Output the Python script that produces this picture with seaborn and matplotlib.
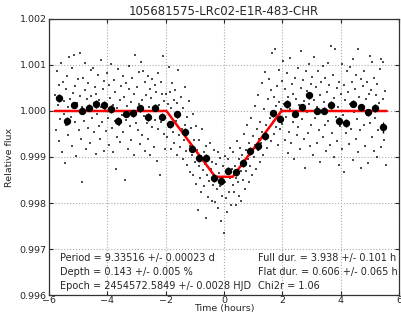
import numpy as np
import pandas as pd
import seaborn as sns
import matplotlib
matplotlib.use("Agg")
import matplotlib.pyplot as plt
from matplotlib.ticker import FormatStrFormatter

# raw photometry: time (hours from mid-transit) and flux offset in ppm
raw_time = [
    -5.78, -5.75, -5.72, -5.70, -5.67, -5.65, -5.62, -5.60, -5.57, -5.55, -5.52, -5.50, -5.48, -5.45, -5.43, -5.40,
    -5.38, -5.35, -5.33, -5.30, -5.27, -5.25, -5.22, -5.20, -5.17, -5.15, -5.12, -5.10, -5.07, -5.05, -5.02,
    -4.98, -4.95, -4.92, -4.90, -4.87, -4.85, -4.82, -4.80, -4.77, -4.75, -4.72, -4.70, -4.67, -4.65, -4.62, -4.60,
    -4.57, -4.55, -4.52, -4.50, -4.47, -4.45, -4.42, -4.40, -4.37, -4.35, -4.32, -4.30, -4.27, -4.25, -4.22, -4.20,
    -4.17, -4.15, -4.12, -4.10, -4.07, -4.05, -4.02,
    -3.98, -3.95, -3.93, -3.90, -3.87, -3.85, -3.82, -3.80, -3.77, -3.75, -3.72, -3.70, -3.67, -3.65, -3.62, -3.60,
    -3.57, -3.55, -3.52, -3.50, -3.47, -3.45, -3.42, -3.40, -3.37, -3.35, -3.32, -3.30, -3.27, -3.25, -3.22, -3.20,
    -3.17, -3.15, -3.12, -3.10, -3.07, -3.05, -3.02,
    -2.98, -2.95, -2.92, -2.90, -2.87, -2.85, -2.82, -2.80, -2.77, -2.75, -2.72, -2.70, -2.67, -2.65, -2.62, -2.60,
    -2.57, -2.55, -2.52, -2.50, -2.47, -2.45, -2.42, -2.40, -2.37, -2.35, -2.32, -2.30, -2.27, -2.25, -2.22, -2.20,
    -2.17, -2.15, -2.12, -2.10, -2.07, -2.05, -2.02,
    -1.98, -1.95, -1.92, -1.90, -1.87, -1.85, -1.82, -1.80, -1.77, -1.75, -1.72, -1.70, -1.67, -1.65, -1.62, -1.60,
    -1.57, -1.55, -1.52, -1.50, -1.47, -1.45, -1.42, -1.40, -1.37, -1.35, -1.32, -1.30, -1.27, -1.25, -1.22, -1.20,
    -1.17, -1.15, -1.12, -1.10, -1.07, -1.05, -1.02, -1.00, -0.97, -0.95, -0.92, -0.90, -0.87, -0.85, -0.82, -0.80,
    -0.77, -0.75, -0.72, -0.70, -0.67, -0.65, -0.62, -0.60, -0.57, -0.55, -0.52, -0.50, -0.47, -0.45, -0.42, -0.40,
    -0.37, -0.35, -0.32,
    -0.30, -0.27, -0.25, -0.22, -0.20, -0.17, -0.15, -0.12, -0.10, -0.07, -0.05, -0.02, 0.00, 0.02, 0.05, 0.07,
    0.10, 0.12, 0.15, 0.17, 0.20, 0.22, 0.25, 0.27, 0.30,
    0.32, 0.35, 0.37, 0.40, 0.42, 0.45, 0.47, 0.50, 0.52, 0.55, 0.57, 0.60, 0.62, 0.65, 0.67, 0.70,
    0.72, 0.75, 0.77, 0.80, 0.82, 0.85, 0.87, 0.90, 0.92, 0.95, 0.97, 1.00, 1.02, 1.05, 1.07, 1.10,
    1.12, 1.15, 1.17, 1.20, 1.22, 1.25, 1.27, 1.30, 1.32, 1.35, 1.37, 1.40, 1.42, 1.45, 1.47, 1.50,
    1.52, 1.55, 1.57, 1.60, 1.62, 1.65, 1.67, 1.70, 1.72, 1.75, 1.77, 1.80, 1.82, 1.85, 1.87, 1.90,
    1.92, 1.95,
    1.98, 2.00, 2.03, 2.05, 2.08, 2.10, 2.13, 2.15, 2.18, 2.20, 2.23, 2.25, 2.28, 2.30, 2.33, 2.35,
    2.38, 2.40, 2.43, 2.45, 2.48, 2.50, 2.53, 2.55, 2.58, 2.60, 2.63, 2.65, 2.68, 2.70, 2.73, 2.75,
    2.78, 2.80, 2.83, 2.85, 2.88, 2.90, 2.93, 2.95, 2.98,
    3.00, 3.03, 3.05, 3.08, 3.10, 3.13, 3.15, 3.18, 3.20, 3.23, 3.25, 3.28, 3.30, 3.33, 3.35, 3.38,
    3.40, 3.43, 3.45, 3.48, 3.50, 3.53, 3.55, 3.58, 3.60, 3.63, 3.66, 3.68, 3.71, 3.73, 3.76, 3.78,
    3.81, 3.83, 3.86, 3.88, 3.91, 3.93, 3.96, 3.98,
    4.01, 4.03, 4.06, 4.08, 4.11, 4.13, 4.16, 4.18, 4.21, 4.23, 4.26, 4.28, 4.31, 4.33, 4.36, 4.38,
    4.41, 4.43, 4.46, 4.48, 4.51, 4.53, 4.56, 4.59, 4.61, 4.64, 4.66, 4.69, 4.71, 4.74, 4.76, 4.79,
    4.81, 4.84, 4.86, 4.89, 4.91, 4.94, 4.96, 4.99, 5.01, 5.04, 5.06, 5.09, 5.11, 5.14, 5.16, 5.19,
    5.21, 5.24, 5.26, 5.29, 5.31, 5.34, 5.37, 5.39, 5.41, 5.44, 5.46, 5.49, 5.51, 5.54,
]
raw_ppm = [
    350, -420, 880, 120, -650, 560, -180, 1040, 300, -900, 640, -60, 220, -1140, 470, -310,
    760, 80, -520, 1180, 260, -140, 930, -760, 390, 1220, -250, 540, -980, 180, 690,
    -420, 1250, 320, -600, 80, -1540, 720, -210, 450, 1050, -830, 260, -380, 610, 40, -700,
    890, 330, -160, 930, -450, 170, 520, -940, 380, -60, 780, -320, 240, -610, 1100, 90,
    -240, 470, -870, 650, 20, -430, 820,
    -150, 560, -740, 290, 1030, -370, 140, -890, 680, -210, 420, -1260, 60, -560, 910, -300,
    230, -680, 540, -90, 770, -450, 310, -1500, 600, -200, 110, -820, 470, 980, -330, 190,
    -640, 720, -30, -950, 380, 1210, -270,
    520, -410, 160, 840, -720, 1060, 240, -530, 880, -110, 620, -870, 340, -260, 750, -600,
    90, 470, -960, 280, -350, 690, 30, -780, 560, -190, 410, -1080, 830, -390, 120, -1390,
    640, -230, 360, 1200, -510, 210, -830,
    380, -560, 150, 950, -340, 420, -820, 70, 610, -450, 230, -700, 460, -210, -960, 180,
    890, -520, -80, -780, 310, -390, -1050, 60, -620, 520, -300, -880, -140, -1180, -470, 210,
    -760, -1320, -380, -950, -60, -1400, -640, -1110, -320, -1580, -850, -2150, -1200, -620, -1460, -980,
    -1750, -400, -1280, -890, -1630, -1150, -2330, -760, -1390, -1880, -1020, -1520, -700, -1260, -1960, -1100,
    -1600, -850, -1420,
    -1980, -1150, -1700, -900, -2100, -1350, -1620, -1030, -2400, -1480, -1850, -1200, -2650, -1550, -980, -1900,
    -1300, -2200, -1050, -1750, -800, -1450, -2050, -1250, -1600,
    -900, -1750, -1200, -2050, -1450, -650, -1550, -1050, -1850, -800, -1300, -1950, -950, -1500, -500, -1150,
    -1700, -850, -1300, -300, -1050, -1550, -700, -1200, -150, -900, -1400, -550, -1000, 100, -750, -1250,
    -400, -850, 350, -600, -1100, -250, -700, 600, -450, -950, 50, -550, 850, -300, -800, 250,
    -400, 700, -150, -650, 450, 1250, -250, 300, -500, 1350, 100, -350, 550, -750, 200, 900,
    -400, 50,
    650, -280, 1080, 150, -640, 470, -120, 820, -910, 300, -450, 1150, 40, -700, 590, -230,
    380, -1050, 720, -60, 260, -530, 940, -350, 130, -820, 510, 1300, -180, 670, -600, 220,
    -1240, 860, -30, 440, -480, 1020, 160, -760, 580,
    -310, 740, -950, 240, 1180, -150, 530, -690, 90, 860, -420, 350, -1100, 620, -20, 980,
    -560, 200, -300, 710, -880, 410, 1050, -210, 560, -740, 1410, 130, -470, 790, -1000, 280,
    1350, -120, 490, -650, 90, -1180, 640, -330,
    370, -820, 1020, -90, 560, -1330, 230, -480, 880, -250, 410, -720, 160, 950, -390, 630,
    -1060, 1120, -30, 470, -600, 780, -180, 1350, -900, 300, -420, 690, -1230, 120, 540, -310,
    870, -760, 250, -80, 620, -1120, 380, 1190, -270, 450, -560, 1070, 60, -880, 720, -150,
    340, -1000, 580, -420, 180, 910, -790, 1130, -300, 260, 1070, -640, 430, -1180,
]

# binned points
bin_time = [-5.66, -5.39, -5.14, -4.88, -4.63, -4.38, -4.12, -3.87, -3.62, -3.37, -3.12, -2.87, -2.62,
            -2.37, -2.12, -1.85, -1.60, -1.35, -1.10, -0.85, -0.61, -0.35, -0.11, 0.15, 0.40, 0.65,
            0.90, 1.16, 1.42, 1.67, 1.92, 2.17, 2.42, 2.67, 2.92, 3.18, 3.43, 3.68, 3.93, 4.18, 4.43,
            4.69, 4.94, 5.19, 5.44]
bin_flux = [1.00029, 0.99978, 1.00013, 1.00001, 1.00007, 1.00015, 1.00014, 1.00004, 0.99979, 0.99993,
            0.99995, 1.00006, 0.99987, 1.00007, 0.99988, 0.99971, 0.99993, 0.99954, 0.99918, 0.99898,
            0.99898, 0.99854, 0.99848, 0.99870, 0.99867, 0.99887, 0.99913, 0.99924, 0.99946, 0.99995,
            0.99983, 1.00015, 0.99994, 1.00008, 1.00034, 1.00001, 1.00001, 1.00013, 0.99978, 0.99974,
            1.00016, 1.00008, 0.99997, 1.00006, 0.99965]
bin_err = [0.00009, 0.00008, 0.00007, 0.00008, 0.00008, 0.00008, 0.00007, 0.00008, 0.00008, 0.00007,
           0.00008, 0.00008, 0.00008, 0.00008, 0.00008, 0.00008, 0.00008, 0.00008, 0.00008, 0.00008,
           0.00008, 0.00008, 0.00008, 0.00008, 0.00008, 0.00008, 0.00008, 0.00008, 0.00008, 0.00008,
           0.00008, 0.00008, 0.00008, 0.00008, 0.00008, 0.00008, 0.00008, 0.00008, 0.00008, 0.00008,
           0.00008, 0.00008, 0.00008, 0.00009, 0.00012]

# trapezoid model vertices
model_time = [-5.8, -1.97, -0.30, 0.30, 1.97, 5.58]
model_flux = [1.0, 1.0, 0.99857, 0.99857, 1.0, 1.0]

left_text = ["Period = 9.33516 +/- 0.00023 d",
             "Depth = 0.143 +/- 0.005 %",
             "Epoch = 2454572.5849 +/- 0.0028 HJD"]
right_text = ["Full dur. = 3.938 +/- 0.101 h",
              "Flat dur. = 0.606 +/- 0.065 h",
              "Chi2r = 1.06"]


def main():
    sns.set_style("white")
    plt.rcParams['font.family'] = ['DejaVu Sans']

    raw = pd.DataFrame({"time": raw_time, "flux": 1 + np.array(raw_ppm) * 1e-6})
    model = pd.DataFrame({"time": model_time, "flux": model_flux})

    fig = plt.figure(figsize=(4.01, 3.14), dpi=100)
    ax = fig.add_axes([0.122, 0.0605, 0.873, 0.879])

    sns.scatterplot(data=raw, x="time", y="flux", ax=ax, color="black", s=1,
                    marker="s", linewidth=0, alpha=0.7, zorder=2)
    sns.lineplot(data=model, x="time", y="flux", ax=ax, color="red", lw=1.8,
                 sort=False, zorder=3)
    ax.errorbar(bin_time, bin_flux, yerr=bin_err, fmt="o", color="black",
                ms=4.3, elinewidth=1, capsize=0, zorder=4)

    ax.set_xlim(-6, 6)
    ax.set_ylim(0.996, 1.002)
    ax.set_xticks(range(-6, 7, 2))
    ax.set_yticks([0.996, 0.997, 0.998, 0.999, 1.000, 1.001, 1.002])
    ax.yaxis.set_major_formatter(FormatStrFormatter('%.3f'))
    ax.grid(True, ls=":", color="#aaaaaa", lw=0.8)
    ax.tick_params(direction="in", labelsize=6.8, length=3, top=True, right=True,
                   bottom=True, left=True, pad=1.5)
    ax.tick_params(axis="x", pad=0.5)
    for sp in ax.spines.values():
        sp.set_color("#333333")
        sp.set_linewidth(0.9)

    ax.set_xlabel("Time (hours)", fontsize=6.8, labelpad=-0.5)
    ax.set_ylabel("Relative flux", fontsize=6.8, labelpad=4)
    ax.set_title("105681575-LRc02-E1R-483-CHR", fontsize=8.5, pad=3)

    ys = [0.134, 0.083, 0.033]
    for txt, y in zip(left_text, ys):
        ax.text(0.031, y, txt, transform=ax.transAxes, fontsize=7, va="center", ha="left")
    for txt, y in zip(right_text, ys):
        ax.text(0.597, y, txt, transform=ax.transAxes, fontsize=7, va="center", ha="left")

    fig.savefig("out.png", dpi=100)
    plt.close(fig)


if __name__ == '__main__':
    main()
